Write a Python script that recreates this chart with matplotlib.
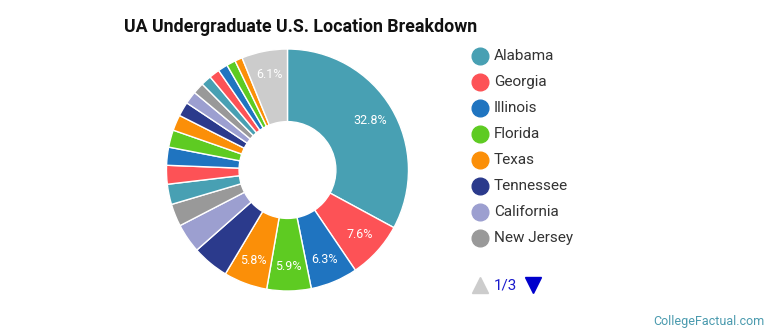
import matplotlib
matplotlib.use('Agg')
import matplotlib.pyplot as plt
from matplotlib.lines import Line2D

plt.rcParams['font.family'] = ['Roboto', 'DejaVu Sans']

# data (clockwise from top)
states = ['Alabama', 'Georgia', 'Illinois', 'Florida', 'Texas', 'Tennessee',
          'California', 'New Jersey', 'S9', 'S10', 'S11', 'S12', 'S13', 'S14',
          'S15', 'S16', 'S17', 'S18', 'S19', 'S20', 'S21', 'Other']
shares = [32.8, 7.6, 6.3, 5.9, 5.8, 4.9, 3.9, 3.0, 2.7, 2.5, 2.4, 2.3, 2.1,
          1.9, 1.7, 1.5, 1.4, 1.4, 1.3, 1.2, 1.0, 6.1]
palette = ['#48a0b3', '#fd5256', '#1f74c0', '#5ecb22', '#fb8f08', '#2b3a8c',
           '#9c9fd0', '#999999']
legend_names = states[:8]
page_text = '1/3'

colors = [palette[i % 8] for i in range(len(states) - 1)] + ['#cccccc']

fig = plt.figure(figsize=(7.7, 3.35), dpi=100)
ax = fig.add_axes([0.2162, 0.1313, 0.3143, 0.7224])

wedges, texts = ax.pie(
    shares, colors=colors, startangle=90, counterclock=False, radius=1,
    wedgeprops=dict(width=0.6, edgecolor='white', linewidth=1))

# percentage labels on the bigger slices
import numpy as np
for w, v in zip(wedges, shares):
    if v < 5.5:
        continue
    a = np.deg2rad((w.theta1 + w.theta2) / 2)
    ax.text(0.8 * np.cos(a), 0.8 * np.sin(a), '%.1f%%' % v, color='white',
            fontsize=9, ha='center', va='center')

ax.set_xlim(-1, 1)
ax.set_ylim(-1, 1)
ax.set_aspect('equal')

fig.text(124 / 770, 1 - 27 / 335, 'UA Undergraduate U.S. Location Breakdown',
         fontsize=12.8, fontweight='bold', color='#111111', va='center', ha='left')

# legend
for i, name in enumerate(legend_names):
    y = 1 - (56 + 26 * i) / 335
    fig.add_artist(Line2D([480 / 770], [y], marker='o', markersize=12,
                          color=palette[i], linestyle='none',
                          transform=fig.transFigure))
    fig.text(494 / 770, y, name, fontsize=11, color='#333333', va='center', ha='left')

yp = 1 - 285 / 335
fig.add_artist(Line2D([480 / 770], [yp], marker='^', markersize=11,
                      color='#cccccc', linestyle='none', transform=fig.transFigure))
fig.text(494 / 770, yp, page_text, fontsize=11, color='#1a1acc', va='center', ha='left')
fig.add_artist(Line2D([533 / 770], [yp], marker='v', markersize=11,
                      color='#0000cc', linestyle='none', transform=fig.transFigure))

fig.text(765 / 770, 1 - 321 / 335, 'CollegeFactual.com', fontsize=9,
         color='#4a9aae', va='center', ha='right')

fig.savefig('out.png', dpi=100)
